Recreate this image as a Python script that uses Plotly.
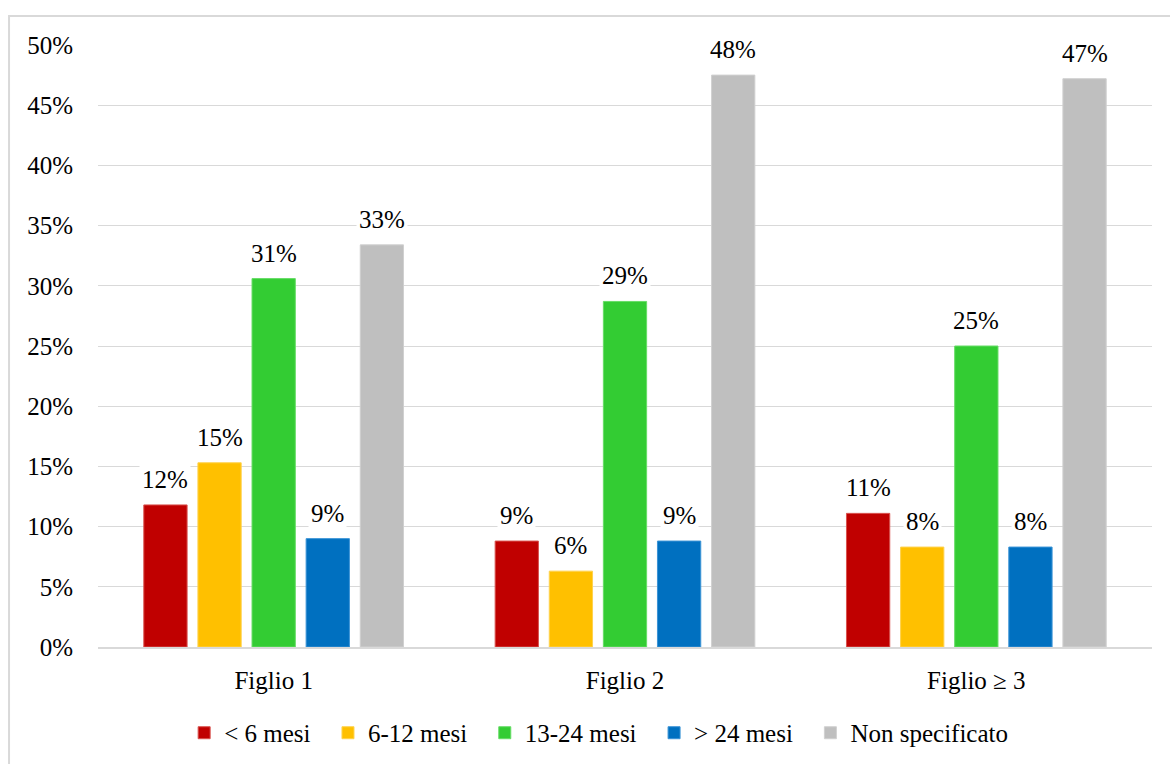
import plotly.graph_objects as go

# Share of children by age at event, per birth order
categories = ["Figlio 1", "Figlio 2", "Figlio ≥ 3"]
series_names = ["< 6 mesi", "6-12 mesi", "13-24 mesi", "> 24 mesi", "Non specificato"]
lt_6 = [0.118, 0.088, 0.111]
m6_12 = [0.153, 0.063, 0.083]
m13_24 = [0.306, 0.287, 0.250]
gt_24 = [0.090, 0.088, 0.083]
non_spec = [0.334, 0.475, 0.472]
series_values = [lt_6, m6_12, m13_24, gt_24, non_spec]
colors = ["#C00000", "#FFC000", "#33CC33", "#0070C0", "#BFBFBF"]
edge_colors = ["#D9534F", "#FFD24D", "#66DD66", "#3A93D6", "#D0D0D0"]

y_ticks = [i * 0.05 for i in range(11)]
y_tick_labels = [f"{i * 5}%" for i in range(11)]

FONT = "'Times New Roman', 'Liberation Serif', serif"
BARGAP = 0.23
GROUPGAP = 0.20
PAD = "\u00a0\u00a0"  # extra spacing between legend entries

fig = go.Figure()
for k, (name, vals, col, edge) in enumerate(zip(series_names, series_values, colors, edge_colors)):
    label = name + (PAD if k < len(series_names) - 1 else "")
    fig.add_trace(go.Bar(
        name=label, x=categories, y=vals,
        marker=dict(color=col, line=dict(color=edge, width=1)),
    ))

# Value labels on white boxes, placed over each grouped bar
n = len(series_names)
slot = (1 - BARGAP) / n
for i, vals in enumerate(series_values):
    off = -(1 - BARGAP) / 2 + slot * (i + 0.5)
    for j, v in enumerate(vals):
        fig.add_annotation(
            x=j + off, y=v, xref="x", yref="y",
            text=f"{round(v * 100):.0f}%", showarrow=False,
            yanchor="bottom", yshift=9,
            bgcolor="white", borderpad=2,
            font=dict(family=FONT, size=25, color="#000000"),
        )

fig.update_layout(
    width=1170, height=764,
    margin=dict(l=98, r=18, t=45, b=117, autoexpand=False),
    paper_bgcolor="white", plot_bgcolor="white",
    barmode="group", bargap=BARGAP, bargroupgap=GROUPGAP,
    font=dict(family=FONT, size=25, color="#000000"),
    showlegend=True,
    legend=dict(
        orientation="h", x=0.475, xanchor="center",
        yref="container", y=0.0406, yanchor="middle",
        font=dict(family=FONT, size=25, color="#000000"),
        itemwidth=30, traceorder="normal",
    ),
    shapes=[dict(
        type="rect", xref="paper", yref="paper",
        x0=-0.0844, x1=1.1, y0=-0.3, y1=1.048,
        line=dict(color="#D9D9D9", width=2), fillcolor="rgba(0,0,0,0)", layer="below",
    )],
)
fig.update_xaxes(
    type="category", showgrid=False, showline=True, linecolor="#D9D9D9", linewidth=2,
    ticks="", ticklabelstandoff=10, tickfont=dict(family=FONT, size=25),
)
fig.update_yaxes(
    range=[0, 0.5], tickvals=y_ticks, ticktext=y_tick_labels,
    showgrid=True, gridcolor="#D9D9D9", gridwidth=1, zeroline=False, showline=False,
    ticks="", ticklabelstandoff=24, tickfont=dict(family=FONT, size=25),
)

fig.write_html("out.html")
